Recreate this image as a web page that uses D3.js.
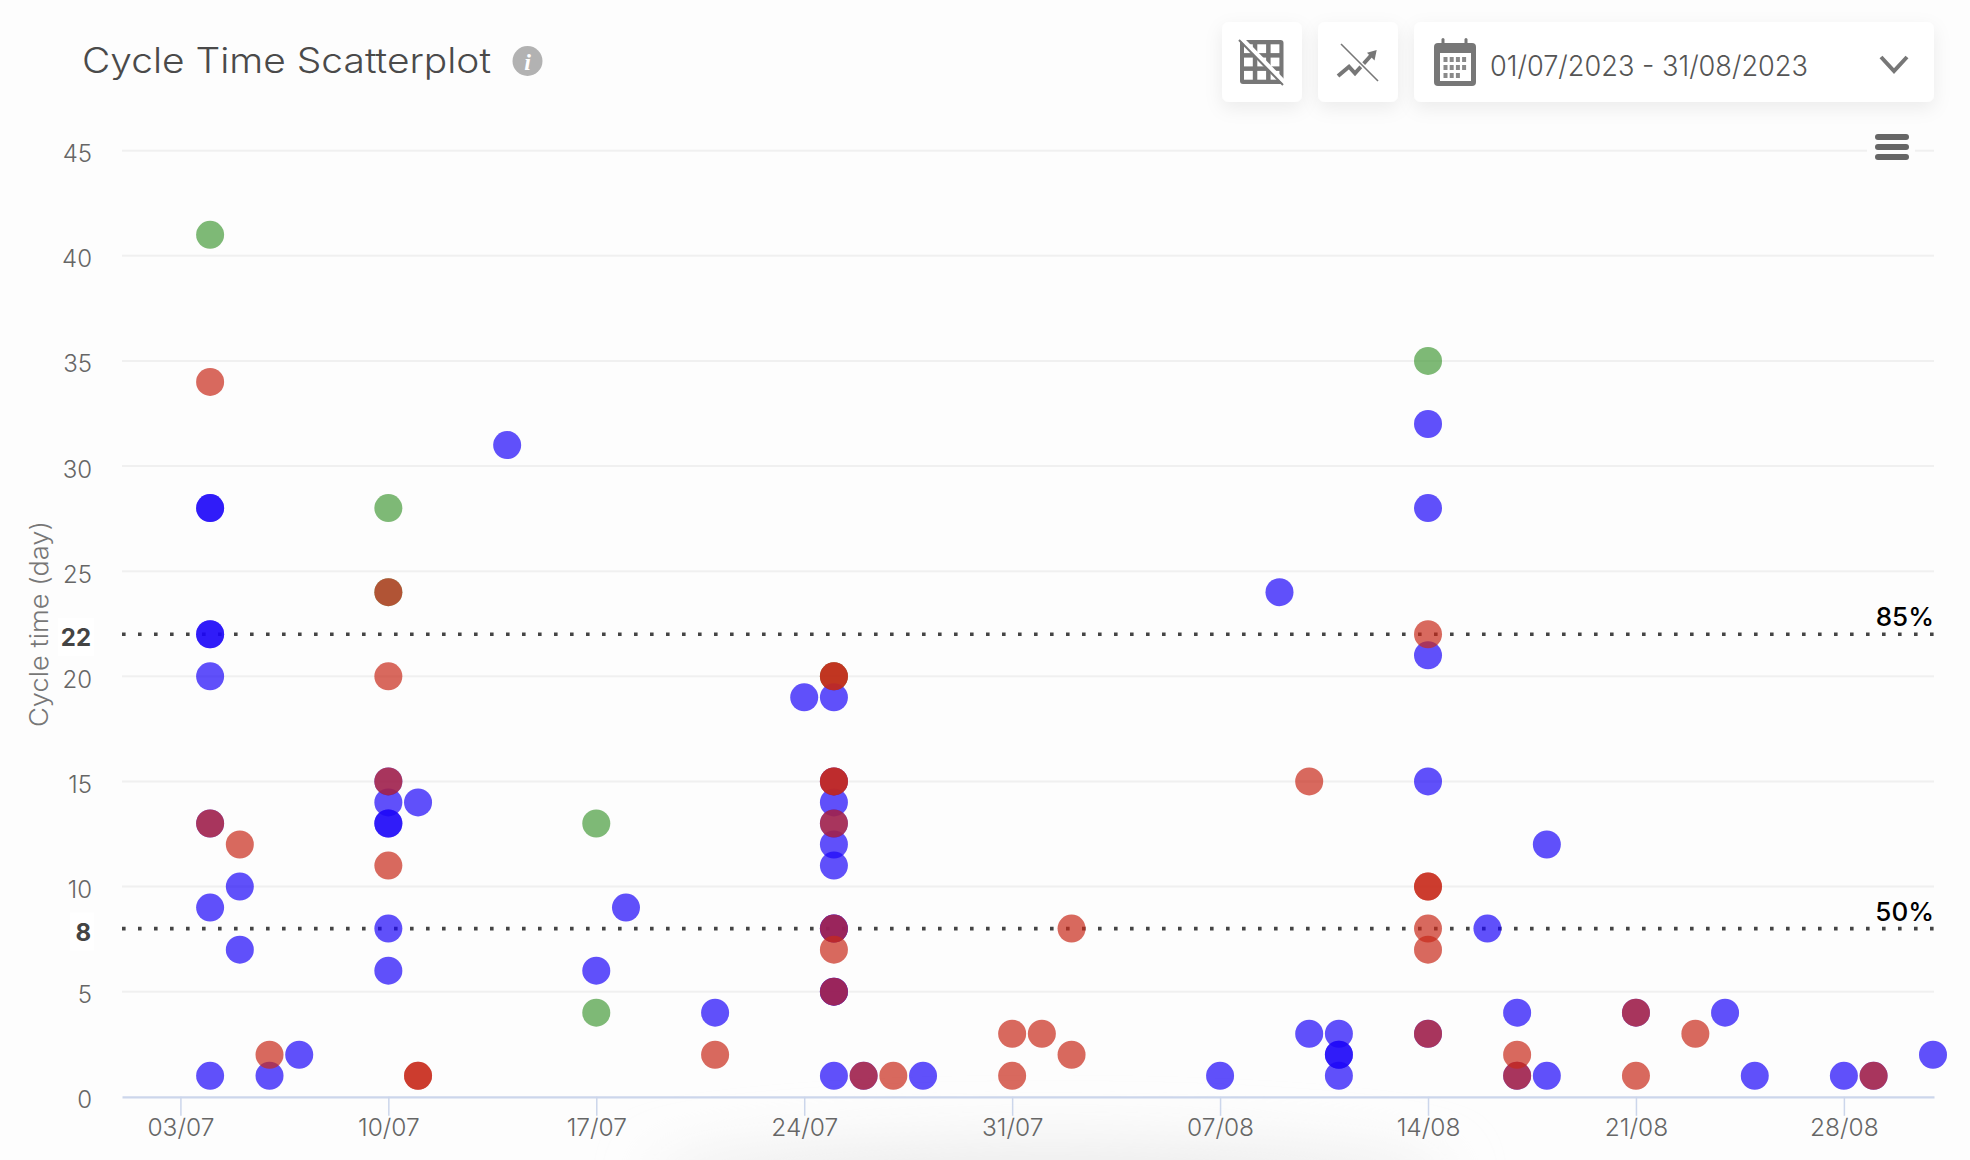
<!DOCTYPE html>
<html><head><meta charset="utf-8">
<script src="https://cdn.jsdelivr.net/npm/d3@7/dist/d3.min.js"></script>
<style>
html,body{margin:0;padding:0;background:#fdfdfd;overflow:hidden}
svg{display:block}
text{font-family:Inter,"Open Sans",sans-serif}
</style></head><body>
<svg id="c" width="1970" height="1160"></svg>
<script>
const yTicks = [0,5,10,15,20,25,30,35,40,45];
const xTickDates = ["2023-07-03","2023-07-10","2023-07-17","2023-07-24","2023-07-31","2023-08-07","2023-08-14","2023-08-21","2023-08-28"];
const percentiles = [{label:"85%",value:22},{label:"50%",value:8}];
// [date, cycle time] — one entry per item; coincident entries darken through opacity
const greenItems = [["07-04",41],["07-10",28],["07-10",24],["07-17",13],["07-17",4],["07-25",20],["08-14",35]];
const blueItems = [
["07-04",28],["07-04",28],["07-04",22],["07-04",22],["07-04",20],["07-04",13],["07-04",9],["07-04",1],
["07-05",10],["07-05",7],["07-06",1],["07-07",2],
["07-10",15],["07-10",14],["07-10",13],["07-10",13],["07-10",8],["07-10",6],
["07-11",14],["07-14",31],["07-17",6],["07-18",9],["07-21",4],["07-24",19],
["07-25",19],["07-25",15],["07-25",14],["07-25",13],["07-25",12],["07-25",11],["07-25",8],["07-25",8],["07-25",5],["07-25",5],["07-25",1],
["07-26",1],["07-28",1],["08-07",1],["08-09",24],["08-10",3],
["08-11",3],["08-11",2],["08-11",2],["08-11",1],
["08-14",32],["08-14",28],["08-14",21],["08-14",15],["08-14",3],
["08-16",8],["08-17",4],["08-17",1],["08-18",12],["08-18",1],
["08-21",4],["08-24",4],["08-25",1],["08-28",1],["08-29",1],["08-31",2]];
const redItems = [
["07-04",34],["07-04",13],["07-05",12],["07-06",2],
["07-10",24],["07-10",20],["07-10",15],["07-10",11],["07-11",1],["07-11",1],
["07-21",2],["07-25",20],["07-25",20],["07-25",15],["07-25",15],["07-25",13],["07-25",8],["07-25",7],["07-25",5],
["07-26",1],["07-27",1],["07-31",3],["07-31",1],["08-01",3],["08-02",8],["08-02",2],
["08-10",15],["08-14",22],["08-14",10],["08-14",10],["08-14",8],["08-14",7],["08-14",3],
["08-17",2],["08-17",1],["08-21",4],["08-21",1],["08-23",3],["08-29",1]];
const seriesColors = {green:"#479b3c",blue:"#1c05f8",red:"#c7291a"};

const svg = d3.select("#c");
const defs = svg.append("defs");
const sh = defs.append("filter").attr("id","sh").attr("x","-30%").attr("y","-30%").attr("width","160%").attr("height","180%");
sh.append("feDropShadow").attr("dx",0).attr("dy",6).attr("stdDeviation",9).attr("flood-color","#000").attr("flood-opacity",0.07);
defs.append("filter").attr("id","soft").attr("x","-30%").attr("y","-100%").attr("width","160%").attr("height","300%")
  .append("feGaussianBlur").attr("stdDeviation",28);
svg.append("ellipse").attr("cx",1050).attr("cy",1178).attr("rx",400).attr("ry",36).attr("fill","#ececec").attr("filter","url(#soft)");

const x = d3.scaleUtc().domain([new Date("2023-07-01T00:00Z"),new Date("2023-08-31T00:00Z")]).range([122,1934]);
const y = d3.scaleLinear().domain([0,45]).range([1096.8,150.7]);
const pd = s=>new Date("2023-"+s+"T00:00Z");

// grid + y axis
const yAxis = svg.append("g").attr("transform","translate(122,0)")
  .call(d3.axisLeft(y).tickValues(yTicks).tickSize(0).tickPadding(30));
yAxis.select(".domain").remove();
yAxis.selectAll("text").attr("font-size",24).attr("font-weight",300).attr("fill","#666").attr("dy","0.46em").style("font-family","Inter,sans-serif");
svg.append("g").selectAll("line").data(yTicks.filter(d=>d>0)).join("line")
  .attr("x1",122).attr("x2",1934).attr("y1",d=>y(d)).attr("y2",d=>y(d)).attr("stroke","#f0f0f0").attr("stroke-width",2);

// x axis
const xAxis = svg.append("g").attr("transform",`translate(0,${y(0)})`)
  .call(d3.axisBottom(x).tickValues(xTickDates.map(d=>new Date(d+"T00:00Z"))).tickFormat(d3.utcFormat("%d/%m")).tickSize(19).tickPadding(3).tickSizeOuter(0));
xAxis.select(".domain").attr("stroke","#ccd6eb").attr("stroke-width",2.2);
xAxis.selectAll("line").attr("stroke","#ccd6eb").attr("stroke-width",1.5).attr("transform","translate(-1,0)");
xAxis.selectAll("text").attr("font-size",24.5).attr("font-weight",300).attr("fill","#666").attr("dx",-1).style("font-family","Inter,sans-serif");

// percentile lines
const pg = svg.append("g");
pg.selectAll("line").data(percentiles).join("line")
  .attr("x1",122).attr("x2",1934).attr("y1",d=>y(d.value)).attr("y2",d=>y(d.value))
  .attr("stroke","#444").attr("stroke-width",3.6).attr("stroke-dasharray","3.6 12.4");
pg.selectAll("text.lab").data(percentiles).join("text").attr("class","lab")
  .attr("x",1934).attr("y",d=>y(d.value)-8).attr("text-anchor","end").attr("font-size",26).attr("font-weight",500).attr("fill","#000").text(d=>d.label);
pg.selectAll("rect").data(percentiles).join("rect")
  .attr("x",d=>d.value>9?58:70).attr("y",d=>y(d.value)-16).attr("width",d=>d.value>9?36:24).attr("height",38).attr("fill","#fff");
pg.selectAll("text.val").data(percentiles).join("text").attr("class","val")
  .attr("x",91).attr("y",d=>y(d.value)+12).attr("text-anchor","end").attr("font-size",24).attr("font-weight",700).attr("fill","#444").text(d=>d.value);

// axis title
svg.append("text").attr("transform","translate(48,624) rotate(-90)").attr("text-anchor","middle")
  .attr("font-size",25).attr("font-weight",300).attr("fill","#777").attr("textLength",206).attr("lengthAdjust","spacingAndGlyphs").text("Cycle time (day)");

// points
[["green",greenItems],["blue",blueItems],["red",redItems]].forEach(([k,items])=>{
  svg.append("g").selectAll("circle").data(items).join("circle")
    .attr("cx",d=>x(pd(d[0]))-1).attr("cy",d=>y(d[1])).attr("r",14)
    .attr("fill",seriesColors[k]).attr("fill-opacity",0.7);
});

// header
svg.append("text").attr("x",82).attr("y",73).attr("font-size",35).attr("font-weight",300).attr("fill","#4a4a4a").attr("textLength",409).attr("lengthAdjust","spacingAndGlyphs").text("Cycle Time Scatterplot");
svg.append("circle").attr("cx",527.5).attr("cy",61).attr("r",15).attr("fill","#b2b2b2");
svg.append("text").attr("x",527.5).attr("y",70).attr("text-anchor","middle").attr("font-size",24).attr("font-weight",800).attr("font-style","italic").attr("fill","#fff").style("font-family","'Liberation Serif',serif").text("i");

const btn = svg.append("g");
[[1222,80],[1318,80],[1414,520]].forEach(([bx,w])=>{
  btn.append("rect").attr("x",bx).attr("y",22).attr("width",w).attr("height",80).attr("rx",7).attr("fill","#fff").attr("filter","url(#sh)");
});
const G="#777";
// table icon
const ti = svg.append("g");
ti.append("rect").attr("x",1240).attr("y",40).attr("width",43.5).attr("height",44).attr("rx",3).attr("fill",G);
[0,1,2].forEach(i=>[0,1,2].forEach(j=>ti.append("rect").attr("x",1244+i*13.3).attr("y",44.3+j*13.3).attr("width",8.8).attr("height",8.8).attr("fill","#fff")));
ti.append("line").attr("x1",1241).attr("y1",38).attr("x2",1286).attr("y2",84).attr("stroke","#fff").attr("stroke-width",4.5);
ti.append("line").attr("x1",1239).attr("y1",40).attr("x2",1283).attr("y2",85).attr("stroke",G).attr("stroke-width",2);
// trend icon
const tr = svg.append("g");
tr.append("path").attr("d","M1338 76 L1349 66.7 L1355 73.3 L1371 55.5").attr("fill","none").attr("stroke",G).attr("stroke-width",4);
tr.append("path").attr("d","M1376.7 50 L1367 52.7 L1374.5 60.5 Z").attr("fill",G);
tr.append("line").attr("x1",1341).attr("y1",44).attr("x2",1378).attr("y2",81).attr("stroke","#fff").attr("stroke-width",4.5);
tr.append("line").attr("x1",1341).attr("y1",44).attr("x2",1378).attr("y2",81).attr("stroke",G).attr("stroke-width",1.6);
// calendar icon
const ca = svg.append("g");
ca.append("rect").attr("x",1434).attr("y",43).attr("width",42).attr("height",43).attr("rx",4).attr("fill",G);
[1443,1466].forEach(cx=>ca.append("rect").attr("x",cx-1.5).attr("y",38).attr("width",3).attr("height",8).attr("rx",1.5).attr("fill",G));
ca.append("rect").attr("x",1440).attr("y",53).attr("width",31).attr("height",28).attr("fill","#fff");
[0,1,2].forEach(r=>[0,1,2,3].forEach(cl=>{ if(r==2&&cl==3) return;
  ca.append("rect").attr("x",1443.5+cl*6.2).attr("y",57+r*8).attr("width",4).attr("height",5).attr("fill","#8a8a8a");}));
svg.append("text").attr("x",1490).attr("y",76).attr("font-size",28).attr("font-weight",300).attr("fill","#555").attr("textLength",318).attr("lengthAdjust","spacingAndGlyphs").text("01/07/2023 - 31/08/2023");
svg.append("path").attr("d","M1881 57 L1894 71 L1907 57").attr("fill","none").attr("stroke",G).attr("stroke-width",4);
// menu icon
svg.append("rect").attr("x",1867).attr("y",130).attr("width",48).attr("height",34).attr("fill","#fdfdfd");
[134,144,154].forEach(v=>svg.append("rect").attr("x",1875).attr("y",v).attr("width",34).attr("height",6).attr("rx",3).attr("fill","#666"));
</script></body></html>
